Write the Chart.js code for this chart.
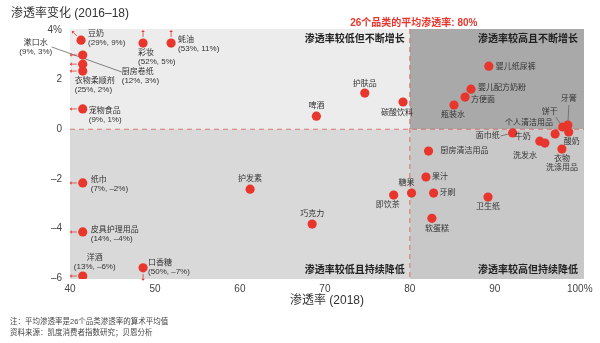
<!DOCTYPE html>
<html>
<head>
<meta charset="utf-8">
<script src="https://cdn.jsdelivr.net/npm/chart.js@4.4.0/dist/chart.umd.min.js"></script>
<style>
  html, body { margin: 0; padding: 0; background: #fff; }
  #wrap { width: 600px; height: 343px; }
</style>
</head>
<body>
<div id="wrap"><canvas id="myChart" width="600" height="343"></canvas></div>
<script>
'use strict';

// categories ('\n' = line break in the label)
var names = [
  '豆奶', '彩妆', '蚝油', '漱口水', '厨房卷纸', '衣物柔顺剂', '宠物食品',
  '纸巾', '皮具护理用品', '洋酒', '口香糖',
  '护发素', '巧克力', '即饮茶', '糖果',
  '厨房清洁用品', '果汁', '牙刷', '软蛋糕', '卫生纸',
  '面巾纸', '牛奶', '洗发水', '个人清洁用品', '衣物\n洗涤用品', '饼干', '牙膏', '酸奶',
  '婴儿纸尿裤', '婴儿配方奶粉', '方便面', '瓶装水', '碳酸饮料', '护肤品', '啤酒'
];
// penetration 2018 (%), as drawn (off-chart ones sit on the edge)
var penetration = [
  41.3, 48.6, 51.9, 41.5, 41.5, 41.5, 41.5,
  41.5, 41.5, 41.5, 48.6,
  61.2, 68.5, 78.1, 80.2,
  82.2, 81.9, 82.8, 82.6, 89.2,
  92.1, 95.3, 95.9, 97.1, 97.9, 98.0, 98.6, 98.7,
  89.3, 87.2, 86.5, 85.2, 79.2, 74.7, 69.0
];
// penetration change 2016-18 (pp), as drawn
var change = [
  3.6, 3.48, 3.48, 3.0, 2.63, 2.35, 0.82,
  -2.17, -4.15, -5.93, -5.6,
  -2.42, -3.83, -2.66, -2.58,
  -0.88, -1.93, -2.58, -3.6, -2.74,
  -0.15, -0.48, -0.56, -0.19, -0.8, 0.09, 0.17, -0.11,
  2.55, 1.62, 1.3, 0.98, 1.1, 1.46, 0.53
];
// real values for points that fall outside the axes
var valueTags = [
  '(29%, 9%)', '(52%, 5%)', '(53%, 11%)', '(9%, 3%)', '(12%, 3%)', '(25%, 2%)', '(9%, 1%)',
  '(7%, –2%)', '(14%, –4%)', '(13%, –6%)', '(50%, –7%)',
  '', '', '', '', '', '', '', '', '', '', '', '', '', '', '', '', '',
  '', '', '', '', '', '', ''
];
var xTicks = [40, 50, 60, 70, 80, 90, 100];
var yTicks = [-6, -4, -2, 0, 2, 4];
var avgPenetration = 80;
var avgText = '26个品类的平均渗透率: 80%';
var quadrantNames = ['渗透率较低但不断增长', '渗透率较高且不断增长', '渗透率较低且持续降低', '渗透率较高但持续降低'];
var chartTitle = '渗透率变化 (2016–18)';
var xTitle = '渗透率 (2018)';
var notes = ['注：平均渗透率是26个品类渗透率的算术平均值', '资料来源：凯度消费者指数研究；贝恩分析'];

// label placement relative to each dot: [dx, dy, align]
var labelPos = [
  [7, -6, 'left'], [-5, 10, 'left'], [7, -3, 'left'], [-47, -12, 'center'], [39, 8, 'left'], [-8, 10, 'left'], [6, 2, 'left'],
  [8, -3, 'left'], [8, -2, 'left'], [12, -18, 'center'], [5, -5, 'left'],
  [0, -10, 'center'], [0, -10, 'center'], [-6, 10, 'center'], [-5, -10, 'center'],
  [12, 0, 'left'], [6, 0, 'left'], [6, 0, 'left'], [5, 10, 'center'], [0, 10, 'center'],
  [-13, 3, 'right'], [-17, -4, 'center'], [-20, 13, 'center'], [-26, -11, 'center'], [0, 10, 'center'], [-13, -15, 'center'], [1, -26, 'center'], [3, 10, 'center'],
  [7, 1, 'left'], [7, -1, 'left'], [6, 3, 'left'], [-1, 10, 'center'], [-6, 11, 'center'], [0, -9, 'center'], [0, -10, 'center']
];
// off-chart arrows: l = left, u = up, ul = up-left, d = down
var arrowDir = {
  '豆奶': 'ul', '彩妆': 'u', '蚝油': 'u', '漱口水': 'l', '厨房卷纸': 'l', '衣物柔顺剂': 'l', '宠物食品': 'l',
  '纸巾': 'l', '皮具护理用品': 'l', '洋酒': 'l', '口香糖': 'd'
};
// leader lines, [x1, y1, x2, y2] relative to the dot
var leaders = {
  '漱口水': [-31, -8, 39, 17],
  '面巾纸': [-12, 3, 0, 0],
  '饼干': [-7, -10, 0, 0],
  '牙膏': [1, -20, 0, 0]
};

var FONT = "'Liberation Sans', 'Noto Sans CJK SC', sans-serif";
var RED = '#e8362c';

var points = [];
for (var i = 0; i < names.length; i++) {
  points.push({ x: penetration[i], y: change[i] });
}

function fmtY(v) {
  if (v === 4) return '4%';
  if (v < 0) return '–' + Math.abs(v);
  return '' + v;
}

var decor = {
  id: 'decor',
  beforeDraw: function (chart) {
    var ctx = chart.ctx, a = chart.chartArea;
    var xs = chart.scales.x, ys = chart.scales.y;
    var mx = xs.getPixelForValue(avgPenetration), my = ys.getPixelForValue(0);
    ctx.save();
    ctx.fillStyle = '#ececec'; ctx.fillRect(a.left, a.top, mx - a.left, my - a.top);
    ctx.fillStyle = '#a9a9a9'; ctx.fillRect(mx, a.top, a.right - mx, my - a.top);
    ctx.fillStyle = '#d9d9d9'; ctx.fillRect(a.left, my, mx - a.left, a.bottom - my);
    ctx.fillStyle = '#c8c8c8'; ctx.fillRect(mx, my, a.right - mx, a.bottom - my);

    ctx.strokeStyle = 'rgba(215,90,80,0.8)';
    ctx.lineWidth = 1;
    ctx.setLineDash([5, 4]);
    ctx.beginPath();
    ctx.moveTo(mx, a.top); ctx.lineTo(mx, a.bottom);
    ctx.moveTo(a.left, my); ctx.lineTo(a.right, my);
    ctx.stroke();
    ctx.setLineDash([]);

    // titles and notes
    ctx.fillStyle = '#333';
    ctx.textBaseline = 'middle';
    ctx.textAlign = 'left';
    ctx.font = '12px ' + FONT;
    ctx.fillText(chartTitle, 11, 14);
    ctx.textAlign = 'center';
    ctx.fillText(xTitle, (a.left + a.right) / 2, 301);
    ctx.textAlign = 'left';
    ctx.fillStyle = '#444';
    ctx.font = '7.5px ' + FONT;
    ctx.fillText(notes[0], 10, 322);
    ctx.fillText(notes[1], 10, 333);

    ctx.fillStyle = RED;
    ctx.font = 'bold 10px ' + FONT;
    ctx.textAlign = 'center';
    ctx.fillText(avgText, mx + 4, 23);

    ctx.fillStyle = '#222';
    ctx.textAlign = 'right';
    ctx.fillText(quadrantNames[0], mx - 5, a.top + 10);
    ctx.fillText(quadrantNames[1], a.right - 6, a.top + 10);
    ctx.fillText(quadrantNames[2], mx - 5, a.bottom - 9);
    ctx.fillText(quadrantNames[3], a.right - 6, a.bottom - 9);
    ctx.restore();
  },
  beforeDatasetsDraw: function (chart) {
    var ctx = chart.ctx;
    var meta = chart.getDatasetMeta(0);
    ctx.save();
    ctx.strokeStyle = '#666';
    ctx.lineWidth = 0.8;
    for (var i = 0; i < names.length; i++) {
      var l = leaders[names[i]];
      if (!l) continue;
      var p = meta.data[i];
      ctx.beginPath();
      ctx.moveTo(p.x + l[0], p.y + l[1]);
      ctx.lineTo(p.x + l[2], p.y + l[3]);
      ctx.stroke();
    }
    ctx.restore();
  },
  afterDatasetsDraw: function (chart) {
    var ctx = chart.ctx;
    var meta = chart.getDatasetMeta(0);
    ctx.save();
    ctx.font = '8px ' + FONT;
    ctx.textBaseline = 'middle';
    for (var i = 0; i < names.length; i++) {
      var p = meta.data[i];
      var pos = labelPos[i];
      var lines = names[i].split('\n');
      if (valueTags[i]) lines.push(valueTags[i]);
      ctx.fillStyle = '#333';
      ctx.textAlign = pos[2];
      for (var k = 0; k < lines.length; k++) {
        ctx.fillText(lines[k], p.x + pos[0], p.y + pos[1] + k * 9);
      }
      var dir = arrowDir[names[i]];
      if (!dir) continue;
      var v = { l: [-1, 0], u: [0, -1], d: [0, 1], ul: [-0.7, -0.7] }[dir];
      var s = 6, e = 11;
      var x1 = p.x + v[0] * s, y1 = p.y + v[1] * s;
      var x2 = p.x + v[0] * e, y2 = p.y + v[1] * e;
      ctx.strokeStyle = RED; ctx.fillStyle = RED; ctx.lineWidth = 0.8;
      ctx.beginPath(); ctx.moveTo(x1, y1); ctx.lineTo(x2, y2); ctx.stroke();
      var px = -v[1], py = v[0];
      ctx.beginPath();
      ctx.moveTo(x2 + v[0] * 2, y2 + v[1] * 2);
      ctx.lineTo(x2 + px * 1.8, y2 + py * 1.8);
      ctx.lineTo(x2 - px * 1.8, y2 - py * 1.8);
      ctx.closePath(); ctx.fill();
    }
    ctx.restore();
  }
};

var config = {
  type: 'scatter',
  data: {
    datasets: [{
      data: points,
      backgroundColor: RED,
      borderColor: RED,
      borderWidth: 0,
      pointRadius: 4.6,
      pointHoverRadius: 4.6
    }]
  },
  options: {
    responsive: false,
    animation: false,
    events: [],
    layout: { padding: { top: 29, right: 16, left: 0, bottom: 0 } },
    plugins: { legend: { display: false }, tooltip: { enabled: false } },
    scales: {
      x: {
        type: 'linear', min: 40, max: 100.5,
        grid: { display: false, drawTicks: false },
        border: { display: false },
        ticks: {
          padding: 4, color: '#444', autoSkip: false, maxRotation: 0,
          font: { size: 10, family: FONT },
          callback: function (v) { return v === 100 ? '100%' : '' + v; }
        },
        afterBuildTicks: function (s) { s.ticks = xTicks.map(function (v) { return { value: v }; }); },
        afterFit: function (s) { s.height = 64; }
      },
      y: {
        type: 'linear', min: -6.05, max: 4.05,
        grid: { display: false, drawTicks: false },
        border: { display: false },
        ticks: {
          padding: 8, color: '#444', autoSkip: false,
          font: { size: 10, family: FONT },
          callback: function (v) { return fmtY(v); }
        },
        afterBuildTicks: function (s) { s.ticks = yTicks.map(function (v) { return { value: v }; }); },
        afterFit: function (s) { s.width = 70; }
      }
    }
  },
  plugins: [decor]
};

var ctx = document.getElementById('myChart').getContext('2d');
window.myScatter = new Chart(ctx, config);
</script>
</body>
</html>
